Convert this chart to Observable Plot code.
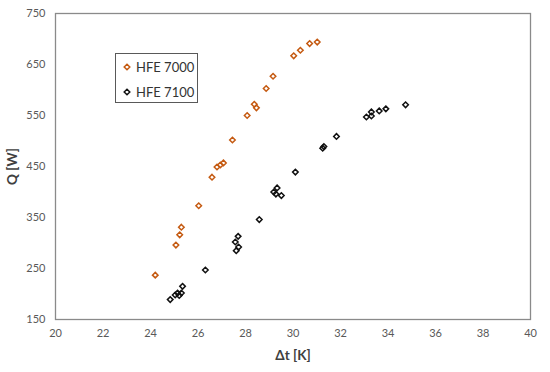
<!DOCTYPE html>
<html>
<head>
<meta charset="utf-8">
<script src="https://cdn.jsdelivr.net/npm/d3@7"></script>
<script src="https://cdn.jsdelivr.net/npm/@observablehq/plot@0.6"></script>
<style>
  html, body { margin: 0; padding: 0; background: #fff; }
  #wrap { position: relative; width: 550px; height: 372px; font-family: Lato, "Open Sans", sans-serif; }
  #legend { position: absolute; left: 115px; top: 53px; width: 83px; height: 50px; box-sizing: border-box;
            border: 1.3px solid #595959; background: #fff; font-size: 13px; color: #333; }
  .item { position: absolute; left: 7px; height: 16px; display: flex; align-items: center; }
  .item svg { margin-right: 5px; }
</style>
</head>
<body>
<div id="wrap"><div id="chart"></div><div id="legend"></div></div>
<script>
const seriesNames = ["HFE 7000", "HFE 7100"];
const seriesColors = ["#C55A11", "#111111"];

const x7000 = [24.20, 25.07, 25.23, 25.30, 26.03, 26.59, 26.80, 26.94, 27.07, 27.45, 28.07, 28.37, 28.46, 28.87, 29.16, 30.03, 30.31, 30.70, 31.02];
const q7000 = [237, 296, 316, 331, 373, 429, 449, 453, 457, 502, 550, 572, 565, 603, 627, 667, 678, 691, 694];

const x7100 = [24.83, 25.04, 25.14, 25.21, 25.30, 25.35, 26.31, 27.61, 27.71, 27.57, 27.69, 28.58, 29.19, 29.33, 29.28, 29.51, 30.10, 31.25, 31.30, 31.83, 33.09, 33.30, 33.30, 33.63, 33.91, 34.74];
const q7100 = [189, 198, 202, 197, 202, 215, 247, 285, 292, 302, 313, 346, 400, 408, 396, 393, 439, 486, 489, 509, 547, 557, 549, 559, 563, 571];

const xTicks = [20, 22, 24, 26, 28, 30, 32, 34, 36, 38, 40];
const yTicks = [150, 250, 350, 450, 550, 650, 750];

const d7000 = x7000.map((x, i) => ({x, q: q7000[i]}));
const d7100 = x7100.map((x, i) => ({x, q: q7100[i]}));

const chart = Plot.plot({
  width: 550,
  height: 372,
  marginLeft: 55,
  marginRight: 20,
  marginTop: 13,
  marginBottom: 53,
  style: {fontFamily: "Lato, 'Open Sans', sans-serif", fontSize: "11px", color: "#595959", background: "#fff"},
  x: {domain: [20, 40]},
  y: {domain: [150, 750]},
  marks: [
    Plot.frame({stroke: "#8a8a8a", strokeWidth: 1.3}),
    Plot.axisX({ticks: xTicks, tickSize: 0, tickPadding: 10, fill: "#595959", fontSize: 11,
      label: null}),
    Plot.axisX({ticks: [], tickSize: 0, label: "Δt [K]", labelAnchor: "center", labelArrow: "none",
      labelOffset: 40, fill: "#404040", fontWeight: "bold", fontSize: 13.5}),
    Plot.axisY({ticks: yTicks, tickSize: 0, tickPadding: 10, fill: "#595959", fontSize: 11,
      label: null}),
    Plot.axisY({ticks: [], tickSize: 0, label: "Q [W]", labelAnchor: "center", labelArrow: "none",
      labelOffset: 48, fill: "#404040", fontWeight: "bold", fontSize: 13.5}),
    Plot.dot(d7000, {x: "x", y: "q", symbol: "diamond2", r: 2.5, stroke: seriesColors[0], strokeWidth: 1.5, fill: "none"}),
    Plot.dot(d7100, {x: "x", y: "q", symbol: "diamond2", r: 2.5, stroke: seriesColors[1], strokeWidth: 1.5, fill: "none"})
  ]
});
document.getElementById("chart").appendChild(chart);

const legend = document.getElementById("legend");
seriesNames.forEach((name, i) => {
  const row = document.createElement("div");
  row.className = "item";
  row.style.top = (5 + i * 25) + "px";
  row.innerHTML = `<svg width="8" height="8" viewBox="-4 -4 8 8"><path d="M0,-2.8L2.8,0L0,2.8L-2.8,0Z" fill="none" stroke="${seriesColors[i]}" stroke-width="1.5"/></svg><span>${name}</span>`;
  legend.appendChild(row);
});
</script>
</body>
</html>
